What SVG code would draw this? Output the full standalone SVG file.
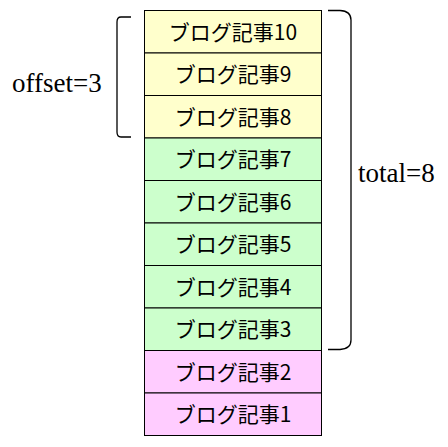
<svg xmlns="http://www.w3.org/2000/svg" width="448" height="447" viewBox="0 0 448 447">
<style>
.y{fill:#ffffcc}.g{fill:#ccffcc}.p{fill:#ffccff}
.row rect{stroke:#000;stroke-width:1}
.row text{font-family:"Noto Sans CJK JP","Liberation Sans",sans-serif;font-size:21px;text-anchor:middle;fill:#000}
.lbl{font-family:"Liberation Serif",serif;font-size:27px;fill:#000}
.br{fill:none;stroke:#000;stroke-width:1.3}
</style>
<rect width="448" height="447" fill="#fff"/>
<g id="n10" class="row"><rect class="y" x="144.5" y="10.5" width="177" height="42.5"/><text x="233" y="39.5">ブログ記事10</text></g>
<g id="n9" class="row"><rect class="y" x="144.5" y="53" width="177" height="42.5"/><text x="233" y="82">ブログ記事9</text></g>
<g id="n8" class="row"><rect class="y" x="144.5" y="95.5" width="177" height="42.5"/><text x="233" y="124.5">ブログ記事8</text></g>
<g id="n7" class="row"><rect class="g" x="144.5" y="138" width="177" height="42.5"/><text x="233" y="167">ブログ記事7</text></g>
<g id="n6" class="row"><rect class="g" x="144.5" y="180.5" width="177" height="42.5"/><text x="233" y="209.5">ブログ記事6</text></g>
<g id="n5" class="row"><rect class="g" x="144.5" y="223" width="177" height="42.5"/><text x="233" y="252">ブログ記事5</text></g>
<g id="n4" class="row"><rect class="g" x="144.5" y="265.5" width="177" height="42.5"/><text x="233" y="294.5">ブログ記事4</text></g>
<g id="n3" class="row"><rect class="g" x="144.5" y="308" width="177" height="42.5"/><text x="233" y="337">ブログ記事3</text></g>
<g id="n2" class="row"><rect class="p" x="144.5" y="350.5" width="177" height="42.5"/><text x="233" y="379.5">ブログ記事2</text></g>
<g id="n1" class="row"><rect class="p" x="144.5" y="393" width="177" height="42.5"/><text x="233" y="422">ブログ記事1</text></g>
<g id="connectors">
<path class="br" d="M131,17 L121,17 Q117,17 117,22 L117,132 Q117,137 121,137 L131,137"/>
<path class="br" d="M328,10.5 L340,10.5 Q351,11 351,20 L351,340 Q351,349 340,349.5 L328,349.5"/>
</g>
<g id="offset"><text class="lbl" x="12" y="92">offset=3</text></g>
<g id="total"><text class="lbl" x="358" y="182">total=8</text></g>
</svg>
